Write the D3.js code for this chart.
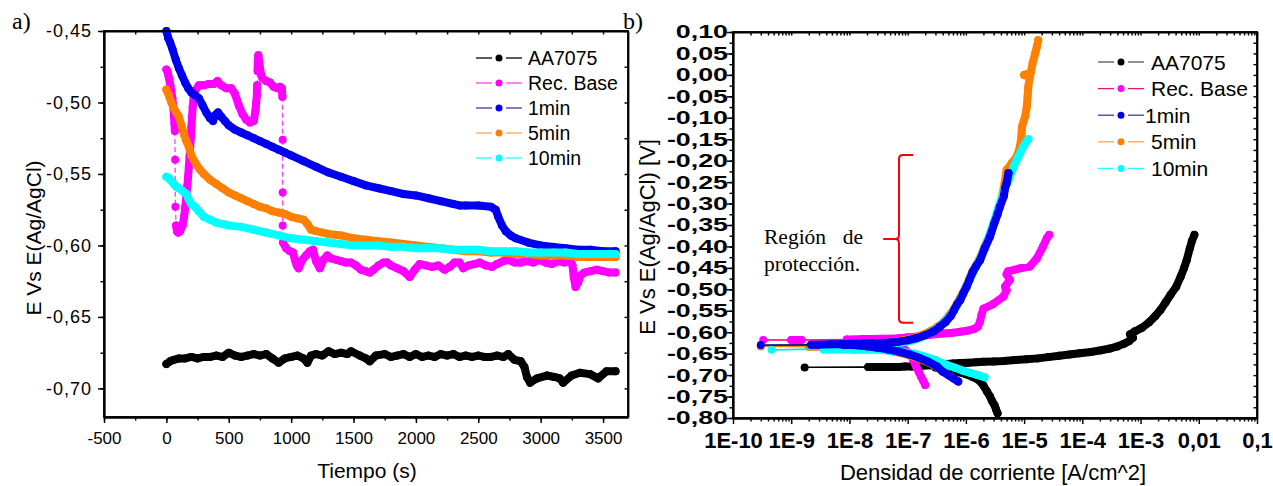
<!DOCTYPE html>
<html>
<head>
<meta charset="utf-8">
<script src="https://cdn.jsdelivr.net/npm/d3@7"></script>
<style>
  body { margin: 0; background: #fff; }
  svg { display: block; }
  text { font-family: "Liberation Sans", Arial, sans-serif; fill: #000; }
  .serif { font-family: "Liberation Serif", "Times New Roman", serif; }
</style>
</head>
<body>
<svg id="chart" width="1273" height="486"></svg>
<script>
// ---------- data: panel a) potential vs time ----------
var seriesNames = ['AA7075', 'Rec. Base', '1min', '5min', '10min'];

var ocpAA7075 = [[0,-0.683],[30,-0.681],[60,-0.680],[100,-0.679],[150,-0.679],[200,-0.678],[250,-0.679],[300,-0.678],
  [350,-0.678],[400,-0.677],[450,-0.678],[500,-0.675],[550,-0.677],[600,-0.678],[650,-0.677],[700,-0.676],[750,-0.677],
  [800,-0.676],[850,-0.679],[900,-0.682],[950,-0.679],[1000,-0.678],[1050,-0.677],[1100,-0.679],[1130,-0.682],[1160,-0.677],
  [1200,-0.676],[1250,-0.677],[1300,-0.674],[1350,-0.676],[1400,-0.675],[1450,-0.676],[1480,-0.674],[1550,-0.677],
  [1600,-0.679],[1630,-0.681],[1680,-0.677],[1750,-0.676],[1800,-0.678],[1850,-0.677],[1900,-0.676],[1950,-0.678],
  [2000,-0.676],[2050,-0.678],[2100,-0.677],[2150,-0.678],[2200,-0.676],[2250,-0.677],[2300,-0.676],[2350,-0.678],
  [2400,-0.677],[2450,-0.678],[2500,-0.677],[2550,-0.678],[2600,-0.678],[2650,-0.677],[2700,-0.678],[2740,-0.676],
  [2790,-0.680],[2840,-0.681],[2870,-0.685],[2890,-0.692],[2915,-0.696],[2970,-0.693],[3050,-0.691],[3110,-0.692],
  [3153,-0.693],[3180,-0.696],[3248,-0.691],[3315,-0.689],[3395,-0.690],[3461,-0.693],[3528,-0.688],[3600,-0.688]];

var ocpRecBase = [[0,-0.477],[8,-0.478],[16,-0.481],[24,-0.484],[32,-0.488],[40,-0.492],[48,-0.497],[55,-0.503],
  [60,-0.509],[65,-0.515],[68,-0.520],[70,-0.540],[72,-0.573],[78,-0.586],[85,-0.590],[95,-0.591],[110,-0.590],
  [130,-0.586],[142,-0.580],[152,-0.573],[160,-0.566],[167,-0.559],[174,-0.552],[180,-0.545],[186,-0.538],[191,-0.531],
  [196,-0.524],[201,-0.517],[206,-0.510],[211,-0.503],[218,-0.497],[230,-0.492],[260,-0.488],[300,-0.488],[340,-0.487],
  [380,-0.487],[410,-0.485],[440,-0.488],[480,-0.490],[520,-0.490],[550,-0.494],[580,-0.502],[610,-0.508],[640,-0.512],
  [670,-0.514],[700,-0.513],[715,-0.505],[720,-0.500],[725,-0.495],[727,-0.488],[731,-0.478],[733,-0.470],[737,-0.467],
  [745,-0.472],[755,-0.479],[770,-0.483],[800,-0.485],[830,-0.486],[860,-0.489],[890,-0.490],[910,-0.489],[925,-0.490],
  [930,-0.496],[932,-0.526],[932,-0.563],[932,-0.586],[935,-0.598],[960,-0.602],[990,-0.604],[1015,-0.605],
  [1030,-0.610],[1045,-0.614],[1060,-0.616],[1090,-0.610],[1120,-0.607],[1150,-0.604],[1175,-0.603],[1200,-0.611],
  [1230,-0.616],[1260,-0.610],[1290,-0.607],[1320,-0.609],[1360,-0.610],[1400,-0.611],[1440,-0.612],[1480,-0.612],
  [1520,-0.614],[1560,-0.617],[1600,-0.618],[1630,-0.619],[1660,-0.617],[1700,-0.614],[1740,-0.612],[1770,-0.612],
  [1800,-0.614],[1850,-0.616],[1900,-0.618],[1950,-0.622],[1990,-0.617],[2030,-0.613],[2080,-0.614],[2130,-0.615],
  [2180,-0.614],[2230,-0.617],[2270,-0.615],[2310,-0.612],[2350,-0.612],[2380,-0.616],[2420,-0.614],[2470,-0.613],
  [2510,-0.612],[2560,-0.614],[2610,-0.615],[2650,-0.613],[2700,-0.611],[2740,-0.610],[2790,-0.612],[2840,-0.612],
  [2890,-0.611],[2940,-0.612],[2990,-0.610],[3040,-0.612],[3090,-0.613],[3140,-0.611],[3190,-0.612],[3240,-0.611],
  [3255,-0.614],[3265,-0.622],[3280,-0.629],[3300,-0.626],[3320,-0.621],[3350,-0.619],[3400,-0.618],[3450,-0.617],
  [3500,-0.618],[3550,-0.619],[3600,-0.619]];

var ocp1min = [[0,-0.450],[15,-0.455],[30,-0.458],[50,-0.463],[75,-0.470],[100,-0.476],[125,-0.481],[150,-0.486],
  [175,-0.490],[200,-0.493],[230,-0.495],[260,-0.497],[290,-0.502],[320,-0.507],[350,-0.511],[374,-0.513],[390,-0.509],
  [414,-0.507],[440,-0.510],[470,-0.513],[500,-0.516],[550,-0.519],[600,-0.521],[650,-0.523],[700,-0.525],[750,-0.527],
  [800,-0.529],[850,-0.531],[900,-0.533],[950,-0.535],[1000,-0.537],[1100,-0.541],[1200,-0.545],[1300,-0.549],
  [1400,-0.552],[1500,-0.555],[1600,-0.558],[1700,-0.560],[1800,-0.562],[1900,-0.564],[2000,-0.565],[2100,-0.567],
  [2200,-0.569],[2300,-0.571],[2350,-0.572],[2400,-0.572],[2500,-0.572],[2600,-0.573],[2640,-0.575],[2660,-0.580],
  [2690,-0.586],[2720,-0.590],[2760,-0.593],[2800,-0.595],[2900,-0.598],[3000,-0.600],[3100,-0.601],[3200,-0.602],
  [3300,-0.603],[3400,-0.603],[3500,-0.604],[3600,-0.604]];

var ocp5min = [[0,-0.491],[20,-0.495],[40,-0.500],[60,-0.504],[80,-0.507],[100,-0.510],[120,-0.516],[140,-0.522],
  [160,-0.527],[180,-0.531],[200,-0.537],[230,-0.542],[270,-0.547],[300,-0.550],[350,-0.554],[400,-0.557],[450,-0.560],
  [500,-0.563],[550,-0.565],[600,-0.567],[650,-0.569],[700,-0.571],[750,-0.573],[800,-0.574],[850,-0.576],[900,-0.577],
  [950,-0.578],[1000,-0.580],[1050,-0.581],[1100,-0.582],[1130,-0.585],[1160,-0.589],[1200,-0.590],[1300,-0.592],
  [1400,-0.593],[1500,-0.595],[1600,-0.596],[1700,-0.597],[1800,-0.598],[1900,-0.599],[2000,-0.600],[2100,-0.601],
  [2200,-0.602],[2300,-0.603],[2400,-0.604],[2500,-0.604],[2600,-0.605],[2700,-0.605],[2800,-0.606],[2900,-0.606],
  [3000,-0.607],[3100,-0.607],[3200,-0.607],[3300,-0.608],[3400,-0.608],[3500,-0.608],[3600,-0.608]];

var ocp10min = [[0,-0.552],[20,-0.553],[40,-0.555],[60,-0.557],[80,-0.559],[100,-0.560],[130,-0.562],[160,-0.564],
  [180,-0.568],[200,-0.571],[230,-0.573],[260,-0.576],[300,-0.580],[350,-0.582],[400,-0.584],[450,-0.585],[500,-0.586],
  [600,-0.587],[700,-0.589],[800,-0.591],[900,-0.593],[1000,-0.595],[1100,-0.596],[1200,-0.597],[1300,-0.598],
  [1400,-0.599],[1500,-0.600],[1600,-0.600],[1700,-0.600],[1800,-0.601],[1900,-0.601],[2000,-0.602],[2100,-0.602],
  [2200,-0.602],[2300,-0.603],[2400,-0.603],[2500,-0.603],[2600,-0.604],[2700,-0.604],[2800,-0.604],[2900,-0.605],
  [3000,-0.605],[3100,-0.605],[3200,-0.605],[3300,-0.606],[3400,-0.606],[3500,-0.606],[3600,-0.606]];

var timeTicks = [-500, 0, 500, 1000, 1500, 2000, 2500, 3000, 3500];
var ocpTicks = [-0.45, -0.50, -0.55, -0.60, -0.65, -0.70];

// ---------- data: panel b) polarization curves [current density, potential] ----------
var polAA7075 = [[3.5e-6,-0.789],[3.3e-6,-0.780],[3.1e-6,-0.770],[2.8e-6,-0.760],[2.6e-6,-0.750],[2.3e-6,-0.738],
  [2.0e-6,-0.724],[1.65e-6,-0.711],[1.3e-6,-0.704],[1e-6,-0.698],[8e-7,-0.694],[6e-7,-0.689],[4.5e-7,-0.685],
  [3e-7,-0.682],[1.7e-9,-0.682],[2.1e-8,-0.681],[3e-8,-0.681],[5.5e-8,-0.681],[7e-8,-0.681],[9e-8,-0.680],
  [1.17e-7,-0.680],[1.6e-7,-0.679],[2.4e-7,-0.677],[3.5e-7,-0.676],[4.7e-7,-0.674],[6e-7,-0.673],[8e-7,-0.672],
  [1.1e-6,-0.671],[1.5e-6,-0.670],[2e-6,-0.669],[3e-6,-0.668],[4.5e-6,-0.667],[7e-6,-0.665],[1.1e-5,-0.663],
  [1.7e-5,-0.661],[2.6e-5,-0.658],[4e-5,-0.655],[6e-5,-0.652],[9e-5,-0.649],[1.4e-4,-0.646],[2.1e-4,-0.642],
  [3e-4,-0.638],[4e-4,-0.633],[5.2e-4,-0.627],[6.3e-4,-0.621],[7.4e-4,-0.613],[6.6e-4,-0.605],[8e-4,-0.598],
  [1.05e-3,-0.590],[1.4e-3,-0.577],[1.8e-3,-0.562],[2.2e-3,-0.548],[2.7e-3,-0.530],[3.3e-3,-0.512],[4.1e-3,-0.494],
  [4.9e-3,-0.470],[5.6e-3,-0.450],[6.2e-3,-0.432],[7e-3,-0.405],[7.6e-3,-0.388],[8.4e-3,-0.373]];

var polRecBase = [[2e-7,-0.723],[1.85e-7,-0.713],[1.7e-7,-0.704],[1.55e-7,-0.692],[1.4e-7,-0.680],[1.25e-7,-0.665],
  [1.1e-7,-0.650],[8.5e-8,-0.638],[6.5e-8,-0.630],[4.5e-8,-0.625],[3e-8,-0.621],[2e-8,-0.620],[1.3e-8,-0.619],
  [3.3e-10,-0.618],[1e-9,-0.618],[1.5e-9,-0.618],[9e-9,-0.617],[1.2e-8,-0.617],[1.7e-8,-0.616],[2.5e-8,-0.616],
  [3.5e-8,-0.615],[5e-8,-0.615],[7e-8,-0.614],[1e-7,-0.612],[1.5e-7,-0.610],[2.4e-7,-0.606],[4e-7,-0.603],
  [6e-7,-0.601],[8e-7,-0.599],[1.1e-6,-0.596],[1.4e-6,-0.592],[1.6e-6,-0.587],[1.75e-6,-0.575],[1.85e-6,-0.560],
  [2.0e-6,-0.545],[2.9e-6,-0.535],[4.4e-6,-0.517],[5e-6,-0.502],[4.7e-6,-0.494],[5.7e-6,-0.478],[5e-6,-0.465],
  [5.3e-6,-0.458],[8.5e-6,-0.451],[1.25e-5,-0.447],[1.65e-5,-0.428],[2.1e-5,-0.401],[2.45e-5,-0.381],[2.7e-5,-0.373]];

var pol1min = [[7.4e-7,-0.715],[6.2e-7,-0.708],[5e-7,-0.700],[4e-7,-0.692],[3.2e-7,-0.680],[2.2e-7,-0.668],
  [1.6e-7,-0.660],[1.1e-7,-0.652],[7e-8,-0.645],[4.5e-8,-0.640],[3e-8,-0.636],[2e-8,-0.633],[1.5e-8,-0.631],
  [1.1e-8,-0.630],[8e-9,-0.630],[3e-10,-0.630],[2.2e-9,-0.629],[2.8e-9,-0.629],[5e-9,-0.628],[7e-9,-0.628],
  [1e-8,-0.627],[1.3e-8,-0.627],[1.8e-8,-0.626],[2.5e-8,-0.626],[3.5e-8,-0.625],[5e-8,-0.624],[7e-8,-0.622],
  [1e-7,-0.619],[1.4e-7,-0.614],[2e-7,-0.607],[2.8e-7,-0.598],[3.5e-7,-0.588],[4.5e-7,-0.576],[5.5e-7,-0.562],
  [6.3e-7,-0.548],[7e-7,-0.536],[8e-7,-0.525],[9e-7,-0.510],[1.03e-6,-0.494],[1.15e-6,-0.478],[1.3e-6,-0.460],
  [1.5e-6,-0.446],[1.75e-6,-0.432],[2.1e-6,-0.405],[2.6e-6,-0.377],[3.1e-6,-0.345],[3.5e-6,-0.325],[3.85e-6,-0.307],
  [4.5e-6,-0.282],[4.7e-6,-0.265],[5e-6,-0.253],[5.4e-6,-0.229]];

var pol5min = [[7e-7,-0.713],[5.5e-7,-0.703],[4.5e-7,-0.695],[3.5e-7,-0.685],[2.5e-7,-0.673],[1.6e-7,-0.662],
  [1e-7,-0.653],[6e-8,-0.646],[4e-8,-0.641],[2.5e-8,-0.637],[1.5e-8,-0.635],[1e-8,-0.634],[6e-9,-0.634],[2.7e-9,-0.634],
  [2e-9,-0.634],[3e-10,-0.633],[3.5e-9,-0.632],[6e-9,-0.631],[1e-8,-0.630],[1.6e-8,-0.629],[2.5e-8,-0.627],
  [4e-8,-0.625],[6e-8,-0.622],[9e-8,-0.618],[1.3e-7,-0.613],[1.8e-7,-0.606],[2.5e-7,-0.597],[3.3e-7,-0.587],
  [4.2e-7,-0.575],[5.2e-7,-0.560],[6.3e-7,-0.545],[7.8e-7,-0.522],[1e-6,-0.494],[1.15e-6,-0.475],[1.3e-6,-0.458],
  [1.7e-6,-0.430],[2.1e-6,-0.400],[2.6e-6,-0.372],[3.2e-6,-0.338],[3.9e-6,-0.300],[4.3e-6,-0.275],[4.6e-6,-0.255],
  [5e-6,-0.222],[6.2e-6,-0.205],[7.5e-6,-0.190],[8.5e-6,-0.167],[9e-6,-0.142],[9.2e-6,-0.121],[1.05e-5,-0.095],
  [1.11e-5,-0.074],[1.15e-5,-0.050],[1.18e-5,-0.028],[1.25e-5,-0.005],[1.0e-5,0.000],[1.3e-5,0.005],[1.4e-5,0.027],
  [1.55e-5,0.050],[1.65e-5,0.065],[1.75e-5,0.081]];

var pol10min = [[2.1e-6,-0.705],[1.6e-6,-0.700],[1.2e-6,-0.695],[9e-7,-0.690],[6.5e-7,-0.683],[4.5e-7,-0.675],
  [3e-7,-0.665],[2e-7,-0.657],[1.3e-7,-0.650],[8e-8,-0.646],[5e-8,-0.643],[3e-8,-0.641],[1.9e-8,-0.641],[1.2e-8,-0.641],
  [7e-9,-0.640],[3.6e-9,-0.640],[4.6e-10,-0.641],[4.5e-9,-0.638],[8e-9,-0.636],[1.4e-8,-0.634],[2.2e-8,-0.632],
  [3.5e-8,-0.630],[5.5e-8,-0.627],[8e-8,-0.624],[1.2e-7,-0.619],[1.7e-7,-0.612],[2.4e-7,-0.602],[3.2e-7,-0.591],
  [4e-7,-0.579],[5e-7,-0.565],[6.3e-7,-0.548],[8e-7,-0.523],[1.05e-6,-0.490],[1.4e-6,-0.455],[1.8e-6,-0.425],
  [2.3e-6,-0.390],[2.9e-6,-0.350],[3.6e-6,-0.310],[4.4e-6,-0.275],[5.4e-6,-0.245],[6.6e-6,-0.215],[8e-6,-0.190],
  [9.5e-6,-0.170],[1.1e-5,-0.155],[1.18e-5,-0.150]];

var currentTicks = [1e-10, 1e-9, 1e-8, 1e-7, 1e-6, 1e-5, 1e-4, 1e-3, 1e-2, 1e-1];
var currentLabels = ['1E-10', '1E-9', '1E-8', '1E-7', '1E-6', '1E-5', '1E-4', '1E-3', '0,01', '0,1'];
var potentialTicks = [0.10, 0.05, 0.00, -0.05, -0.10, -0.15, -0.20, -0.25, -0.30, -0.35, -0.40, -0.45,
  -0.50, -0.55, -0.60, -0.65, -0.70, -0.75, -0.80];
// protection region marked by the bracket (top E, bottom E)
var protectionRange = [-0.187, -0.578];

// ---------- styles ----------
var markColors = ['#000000', '#ff00ff', '#0000ee', '#ff8000', '#00ffff'];
var legendLineA = ['#000000', '#ff40ff', '#3a3aa8', '#ffa552', '#22ffff'];
var legendLineB = ['#555555', '#e8107a', '#3a3aa8', '#ffa552', '#22ffff'];
var thinLineB = ['#000000', '#ff1493', '#101070', '#ff8000', '#00e0e0'];

var fmt = d3.formatLocale({decimal: ',', thousands: '.', grouping: [3], currency: ['', ''], minus: '-'});
var fmt2 = fmt.format('.2f');
var fmtInt = fmt.format('d');

var svg = d3.select('#chart');

// draw one series: thick rope where points are dense, thin connector where sparse, dots on every point
function drawSeries(g, pts, x, y, color, thinColor, r, dashed, gap) {
    var px = pts.map(function(p) { return [x(p[0]), y(p[1])]; });
    var runs = [], run = [px[0]];
    for (var i = 1; i < px.length; i++) {
        var d = Math.hypot(px[i][0] - px[i - 1][0], px[i][1] - px[i - 1][1]);
        if (d <= gap) {
            run.push(px[i]);
        } else {
            g.append('line')
                .attr('x1', px[i - 1][0]).attr('y1', px[i - 1][1])
                .attr('x2', px[i][0]).attr('y2', px[i][1])
                .attr('stroke', thinColor).attr('stroke-width', 1.3)
                .attr('stroke-dasharray', dashed ? '5,3' : null);
            runs.push(run);
            run = [px[i]];
        }
    }
    runs.push(run);
    runs.forEach(function(rn) {
        if (rn.length < 2) return;
        g.append('path').attr('d', d3.line()(rn))
            .attr('fill', 'none').attr('stroke', color)
            .attr('stroke-width', r * 2).attr('stroke-linejoin', 'round').attr('stroke-linecap', 'round');
    });
    g.selectAll(null).data(px).enter().append('circle')
        .attr('cx', function(d) { return d[0]; }).attr('cy', function(d) { return d[1]; })
        .attr('r', r).attr('fill', color);
}

function styleAxis(sel, w) {
    sel.select('.domain').attr('stroke', '#000').attr('stroke-width', w);
    sel.selectAll('.tick line').attr('stroke', '#000').attr('stroke-width', w * 0.8);
}

function legend(g, x0, y0, dy, lineColors, fontSize, gapText) {
    seriesNames.forEach(function(name, i) {
        var yy = y0 + i * dy;
        g.append('line').attr('x1', x0).attr('x2', x0 + 16).attr('y1', yy).attr('y2', yy)
            .attr('stroke', lineColors[i]).attr('stroke-width', 1.3);
        g.append('line').attr('x1', x0 + 30).attr('x2', x0 + 46).attr('y1', yy).attr('y2', yy)
            .attr('stroke', lineColors[i]).attr('stroke-width', 1.3);
        g.append('circle').attr('cx', x0 + 23).attr('cy', yy).attr('r', 3.5).attr('fill', markColors[i]);
        g.append('text').attr('x', x0 + 46 + gapText[i]).attr('y', yy).attr('dy', '0.36em')
            .style('font-size', fontSize + 'px').text(name);
    });
}

// ================= panel a) =================
var ax = {l: 104, r: 628, t: 31, b: 417};
var xA = d3.scaleLinear().domain([-500, 3700]).range([ax.l, ax.r]);
var yA = d3.scaleLinear().domain([-0.72, -0.45]).range([ax.b, ax.t]);
var gA = svg.append('g');

var minorTime = d3.range(-500, 3701, 250);
var minorOcp = d3.range(0, 11).map(function(k) { return -0.70 + k * 0.025; });

gA.append('g').attr('transform', 'translate(0,' + ax.b + ')')
    .call(d3.axisBottom(xA).tickValues(minorTime).tickSize(3.5).tickFormat('').tickSizeOuter(0)).call(styleAxis, 1.8);
gA.append('g').attr('transform', 'translate(0,' + ax.b + ')')
    .call(d3.axisBottom(xA).tickValues(timeTicks).tickSize(6).tickPadding(9).tickFormat(fmtInt).tickSizeOuter(0))
    .call(styleAxis, 1.8)
    .selectAll('text').style('font-size', '17px').attr('dy', '0.71em');
gA.append('g').attr('transform', 'translate(' + ax.l + ',0)')
    .call(d3.axisLeft(yA).tickValues(minorOcp).tickSize(3.5).tickFormat('').tickSizeOuter(0)).call(styleAxis, 1.8);
gA.append('g').attr('transform', 'translate(' + ax.l + ',0)')
    .call(d3.axisLeft(yA).tickValues(ocpTicks).tickSize(6).tickPadding(6).tickFormat(fmt2).tickSizeOuter(0))
    .call(styleAxis, 1.8)
    .selectAll('text').style('font-size', '18px').style('letter-spacing', '1px');
gA.append('g').attr('transform', 'translate(0,' + ax.t + ')')
    .call(d3.axisTop(xA).tickValues(minorTime).tickSize(-3.5).tickFormat('').tickSizeOuter(0)).call(styleAxis, 1.8);
gA.append('g').attr('transform', 'translate(' + ax.r + ',0)')
    .call(d3.axisRight(yA).tickValues(minorOcp).tickSize(-3.5).tickFormat('').tickSizeOuter(0)).call(styleAxis, 1.8);

var seriesA = [ocpAA7075, ocpRecBase, ocp1min, ocp5min, ocp10min];
seriesA.forEach(function(pts, i) {
    drawSeries(gA.append('g'), pts, xA, yA, markColors[i], legendLineA[i], 4, true, 14);
});

legend(gA, 476, 58, 25, legendLineA, 19.5, [6, 6, 6, 6, 6]);

gA.append('text').attr('x', (ax.l + ax.r) / 2 + 1).attr('y', 478).attr('text-anchor', 'middle')
    .style('font-size', '21px').text('Tiempo (s)');
gA.append('text').attr('transform', 'translate(41,' + ((ax.t + ax.b) / 2 + 14) + ') rotate(-90)')
    .attr('text-anchor', 'middle').style('font-size', '21px').text('E Vs E(Ag/AgCl)');
gA.append('text').attr('class', 'serif').attr('x', 12).attr('y', 29).style('font-size', '24px').text('a)');

// ================= panel b) =================
var bx = {l: 733, r: 1257, t: 32, b: 418};
var xB = d3.scaleLog().domain([1e-10, 0.1]).range([bx.l, bx.r]);
var yB = d3.scaleLinear().domain([-0.80, 0.10]).range([bx.b, bx.t]);
var gB = svg.append('g');

var minorCurrent = [];
currentTicks.slice(0, -1).forEach(function(dec) {
    for (var m = 2; m <= 9; m++) minorCurrent.push(dec * m);
});
var minorPot = d3.range(0, 37).map(function(k) { return -0.80 + k * 0.025; });

gB.append('g').attr('transform', 'translate(0,' + bx.b + ')')
    .call(d3.axisBottom(xB).tickValues(minorCurrent).tickSize(3.5).tickFormat('').tickSizeOuter(0)).call(styleAxis, 1.8);
gB.append('g').attr('transform', 'translate(0,' + bx.b + ')')
    .call(d3.axisBottom(xB).tickValues(currentTicks).tickSize(6).tickPadding(8)
        .tickFormat(function(d, i) { return currentLabels[i]; }).tickSizeOuter(0))
    .call(styleAxis, 1.8)
    .selectAll('text').style('font-size', '22px').style('font-weight', 'bold').attr('dy', '0.71em');
gB.append('g').attr('transform', 'translate(' + bx.l + ',0)')
    .call(d3.axisLeft(yB).tickValues(minorPot).tickSize(3.5).tickFormat('').tickSizeOuter(0)).call(styleAxis, 1.8);
var potScale = 1.45;
gB.append('g').attr('transform', 'translate(' + bx.l + ',0)')
    .call(d3.axisLeft(yB).tickValues(potentialTicks).tickSize(6).tickFormat(fmt2).tickSizeOuter(0))
    .call(styleAxis, 1.8)
    .selectAll('text').style('font-size', '18.5px').style('font-weight', 'bold')
    .attr('x', -5 / potScale)
    .attr('transform', 'scale(' + potScale + ',1)');
gB.append('g').attr('transform', 'translate(0,' + bx.t + ')')
    .call(d3.axisTop(xB).tickValues(minorCurrent.concat(currentTicks)).tickSize(-3.5).tickFormat('').tickSizeOuter(0))
    .call(styleAxis, 1.8);
gB.append('g').attr('transform', 'translate(' + bx.r + ',0)')
    .call(d3.axisRight(yB).tickValues(minorPot).tickSize(-3.5).tickFormat('').tickSizeOuter(0)).call(styleAxis, 1.8);

var seriesB = [polAA7075, polRecBase, pol5min, pol10min, pol1min];
var orderB = [0, 1, 3, 4, 2];
seriesB.forEach(function(pts, k) {
    var i = orderB[k];
    drawSeries(gB.append('g'), pts, xB, yB, markColors[i], thinLineB[i], 4, false, 24);
});

// bracket marking the protection region
var bTop = yB(protectionRange[0]), bBot = yB(protectionRange[1]), bMid = (bTop + bBot) / 2;
var bSpine = xB(7.1e-8), bEnd = xB(1.24e-7), bTip = xB(3.8e-8);
gB.append('path')
    .attr('d', 'M' + bEnd + ',' + bTop + 'H' + (bSpine + 4) + 'Q' + bSpine + ',' + bTop + ' ' + bSpine + ',' + (bTop + 4) +
        'V' + (bMid - 4) + 'Q' + bSpine + ',' + bMid + ' ' + (bSpine - 4) + ',' + bMid + 'H' + bTip +
        'M' + (bSpine - 4) + ',' + bMid + 'Q' + bSpine + ',' + bMid + ' ' + bSpine + ',' + (bMid + 4) +
        'V' + (bBot - 4) + 'Q' + bSpine + ',' + bBot + ' ' + (bSpine + 4) + ',' + bBot + 'H' + bEnd)
    .attr('fill', 'none').attr('stroke', '#ff0000').attr('stroke-width', 2);
gB.append('text').attr('class', 'serif').attr('x', 764).attr('y', 244).style('font-size', '21.5px').text('Región');
gB.append('text').attr('class', 'serif').attr('x', 863).attr('y', 244).attr('text-anchor', 'end').style('font-size', '21.5px').text('de');
gB.append('text').attr('class', 'serif').attr('x', 764).attr('y', 271).style('font-size', '21.5px').text('protección.');

legend(gB, 1098, 62, 26.6, legendLineB, 21, [7, 7, 1, 7, 7]);

gB.append('text').attr('x', 993).attr('y', 480).attr('text-anchor', 'middle')
    .style('font-size', '22px').text('Densidad de corriente [A/cm^2]');
gB.append('text').attr('transform', 'translate(655,' + ((bx.t + bx.b) / 2 + 12) + ') rotate(-90)')
    .attr('text-anchor', 'middle').style('font-size', '22px').text('E Vs E(Ag/AgCl) [V]');
gB.append('text').attr('class', 'serif').attr('x', 623).attr('y', 29).style('font-size', '24px').text('b)');

// frames
[ax, bx].forEach(function(p) {
    svg.append('rect').attr('x', p.l).attr('y', p.t).attr('width', p.r - p.l).attr('height', p.b - p.t)
        .attr('fill', 'none').attr('stroke', '#000').attr('stroke-width', 1.8);
});
</script>
</body>
</html>
